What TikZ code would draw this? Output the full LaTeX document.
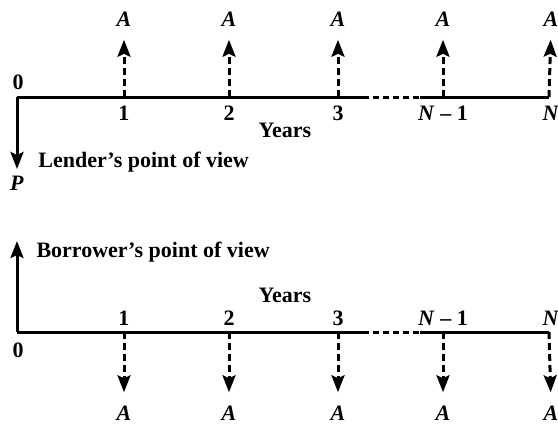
\documentclass[tikz,border=0pt]{standalone}
\usepackage{fontspec}
\setmainfont{Liberation Serif}
\usetikzlibrary{arrows.meta}

\begin{document}
\begin{tikzpicture}[x=0.5pt, y=-0.5pt, line width=1.5pt,
    >={Stealth[length=8.5pt, width=6.5pt, inset=1.5pt]},
    lbl/.style={font=\fontsize{11}{12}\selectfont\bfseries, inner sep=0pt},
    flow/.style={->, dash pattern=on 3.5pt off 2pt}]

    % --- 定义变量 ---
    \def\ytop{97}   % 上面时间轴的 y
    \def\ybot{332}  % 下面时间轴的 y

    \useasboundingbox (0,0) rectangle (558,425);

    % --- 1. 刻度点 ---
    \foreach \name/\x in {0/17, 1/124, 2/229, 3/338, m/443, n/549} {
        \coordinate (t\name) at (\x,\ytop);
        \coordinate (b\name) at (\x,\ybot);
    }
    % 省略号那一段的两端
    \coordinate (tgapa) at (363,\ytop);
    \coordinate (tgapb) at (420,\ytop);
    \coordinate (bgapa) at (363,\ybot);
    \coordinate (bgapb) at (420,\ybot);

    % --- 2. 上面：贷方 (lender) ---
    \draw (t0) -- (tgapa);
    \draw[dash pattern=on 3pt off 2pt] (tgapa) -- (tgapb);
    \draw (tgapb) -- (tn);

    \node[lbl] (tzero) at (18,82) {0};
    \node[lbl] (tyears) at (285,130) {Years};

    % 每年收到 A
    \foreach \name/\x/\txt in {1/124/1, 2/229/2, 3/338/3, m/443/\textit{N} -- 1, n/551/\textit{N}} {
        \node[lbl] (tnum\name) at (\x,113) {\txt};
        \node[lbl] (tA\name) at (\x,19) {\textit{A}};
        \draw[flow] (t\name) -- (tA\name.south) [shorten >=6pt];
    }

    % 0 时刻借出 P
    \coordinate (ptip) at (17,169);
    \draw[->] (t0) -- (ptip);
    \node[lbl, anchor=west] (lender) at (37,162) {Lender's point of view};
    \node[lbl] (pval) at (17,183) {\textit{P}};

    % --- 3. 下面：借方 (borrower) ---
    \draw (b0) -- (bgapa);
    \draw[dash pattern=on 3pt off 2pt] (bgapa) -- (bgapb);
    \draw (bgapb) -- (bn);

    \node[lbl] (bzero) at (18,350) {0};
    \node[lbl] (byears) at (285,295) {Years};

    % 0 时刻收到借款
    \coordinate (btip) at (17,241);
    \draw[->] (b0) -- (btip);
    \node[lbl, anchor=west] (borrower) at (35,252) {Borrower's point of view};

    % 每年付出 A
    \foreach \name/\x/\txt in {1/124/1, 2/229/2, 3/338/3, m/443/\textit{N} -- 1, n/551/\textit{N}} {
        \node[lbl] (bnum\name) at (\x,318) {\txt};
        \node[lbl] (bA\name) at (\x,413) {\textit{A}};
        \draw[flow] (b\name) -- (bA\name.north) [shorten >=6pt];
    }

\end{tikzpicture}
\end{document}
